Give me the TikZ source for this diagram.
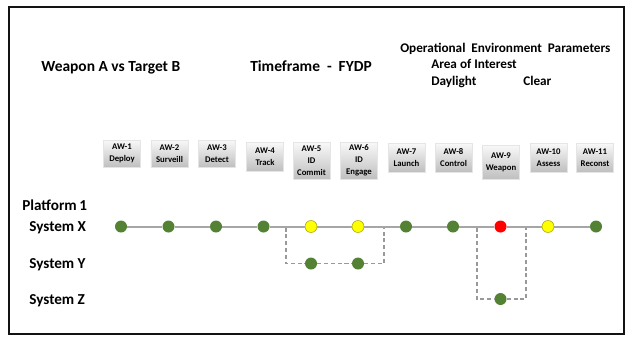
\documentclass[tikz,border=0pt]{standalone}
\usepackage{fontspec}
\setmainfont{Carlito}
\usetikzlibrary{positioning}
\definecolor{awgreen}{HTML}{548235}
\definecolor{awyellow}{HTML}{FFFF00}
\definecolor{awred}{HTML}{FF0000}
\tikzset{
  awbox/.style={top color=gray!5, bottom color=gray!50, draw=gray!20, minimum width=0.925cm, minimum height=0.725cm, inner sep=1pt, align=center, font=\fontsize{6.2}{8.6}\selectfont\bfseries},
  okdot/.style={circle, fill=awgreen, minimum size=0.3cm, inner sep=0pt},
  warndot/.style={okdot, fill=awyellow, draw=black!35!awyellow, thin},
  faildot/.style={okdot, fill=awred},
  headtext/.style={anchor=base west, inner sep=0pt, font=\fontsize{11}{13}\selectfont\bfseries},
  envtext/.style={anchor=base west, inner sep=0pt, font=\fontsize{9.4}{11}\selectfont\bfseries},
  systext/.style={anchor=base west, inner sep=0pt, font=\fontsize{10.8}{13}\selectfont\bfseries},
  mainline/.style={draw=gray!70, line width=0.05cm},
  dashline/.style={draw=gray!80, line width=0.04cm, dash pattern=on 0.1cm off 0.07cm}
}
\begin{document}
\begin{tikzpicture}[x=0.025cm, y=-0.025cm]
  \useasboundingbox (0,0) rectangle (635,343);
  \draw[line width=0.035cm, draw=gray!15!black] (9,7) rectangle (624,334);
  % header
  \node[headtext] (weapon) at (41,71) {Weapon A vs Target B};
  \node[headtext] (timeframe) at (250,71) {Timeframe\ \ -\ \ FYDP};
  \node[envtext] (openv) at (400,52) {Operational\hspace{0.45em}Environment\hspace{0.45em}Parameters};
  \node[envtext] (aoi) at (431,68.5) {Area of Interest};
  \node[envtext] (daylight) at (431,85) {Daylight};
  \node[envtext] (clear) at (523,85) {Clear};
  % activity boxes
  \node[awbox, minimum height=0.675cm] (aw1) at (122,153.5) {AW-1\\Deploy};
  \node[awbox, minimum height=0.675cm] (aw2) at (169.5,153.5) {AW-2\\Surveill};
  \node[awbox, minimum height=0.675cm] (aw3) at (217,153.5) {AW-3\\Detect};
  \node[awbox] (aw4) at (265,156.5) {AW-4\\Track};
  \node[awbox, minimum height=0.925cm] (aw5) at (311.5,160.5) {AW-5\\ID\\Commit};
  \node[awbox, minimum height=0.925cm] (aw6) at (359,160.5) {AW-6\\ID\\Engage};
  \node[awbox] (aw7) at (406.5,157.5) {AW-7\\Launch};
  \node[awbox] (aw8) at (453.5,157.5) {AW-8\\Control};
  \node[awbox, minimum height=0.85cm] (aw9) at (501,162) {AW-9\\Weapon};
  \node[awbox] (aw10) at (548.5,157.5) {AW-10\\Assess};
  \node[awbox] (aw11) at (595,157.5) {AW-11\\Reconst};
  % row labels
  \node[systext] (plat) at (22,210) {Platform\,1};
  \node[systext] (sysx) at (29,231) {System X};
  \node[systext] (sysy) at (29,268.5) {System Y};
  \node[systext] (sysz) at (29,304.5) {System Z};
  % system X
  \node[okdot] (x1) at (121,226.5) {};
  \node[okdot] (x2) at (168.5,226.5) {};
  \node[okdot] (x3) at (216,226.5) {};
  \node[okdot] (x4) at (263.5,226.5) {};
  \node[warndot] (x5) at (311,226.5) {};
  \node[warndot] (x6) at (358,226.5) {};
  \node[okdot] (x7) at (406,226.5) {};
  \node[okdot] (x8) at (453,226.5) {};
  \node[faildot] (x9) at (500.5,226.5) {};
  \node[warndot] (x10) at (548,226.5) {};
  \node[okdot] (x11) at (596,226.5) {};
  \draw[mainline] (x1) -- (x2) -- (x3) -- (x4) -- (x5) -- (x6) -- (x7) -- (x8) -- (x9) -- (x10) -- (x11);
  % system Y and Z
  \node[okdot] (y5) at (311,263.5) {};
  \node[okdot] (y6) at (358,263.5) {};
  \node[okdot] (z9) at (500.5,299) {};
  \coordinate (ytl) at (286,227.5);
  \coordinate (ytr) at (384,227.5);
  \coordinate (ztl) at (477,227.5);
  \coordinate (ztr) at (526,227.5);
  \draw[dashline] (ytl) |- (y5) -- (y6) -| (ytr);
  \draw[dashline] (ztl) |- (z9) -| (ztr);
\end{tikzpicture}
\end{document}
